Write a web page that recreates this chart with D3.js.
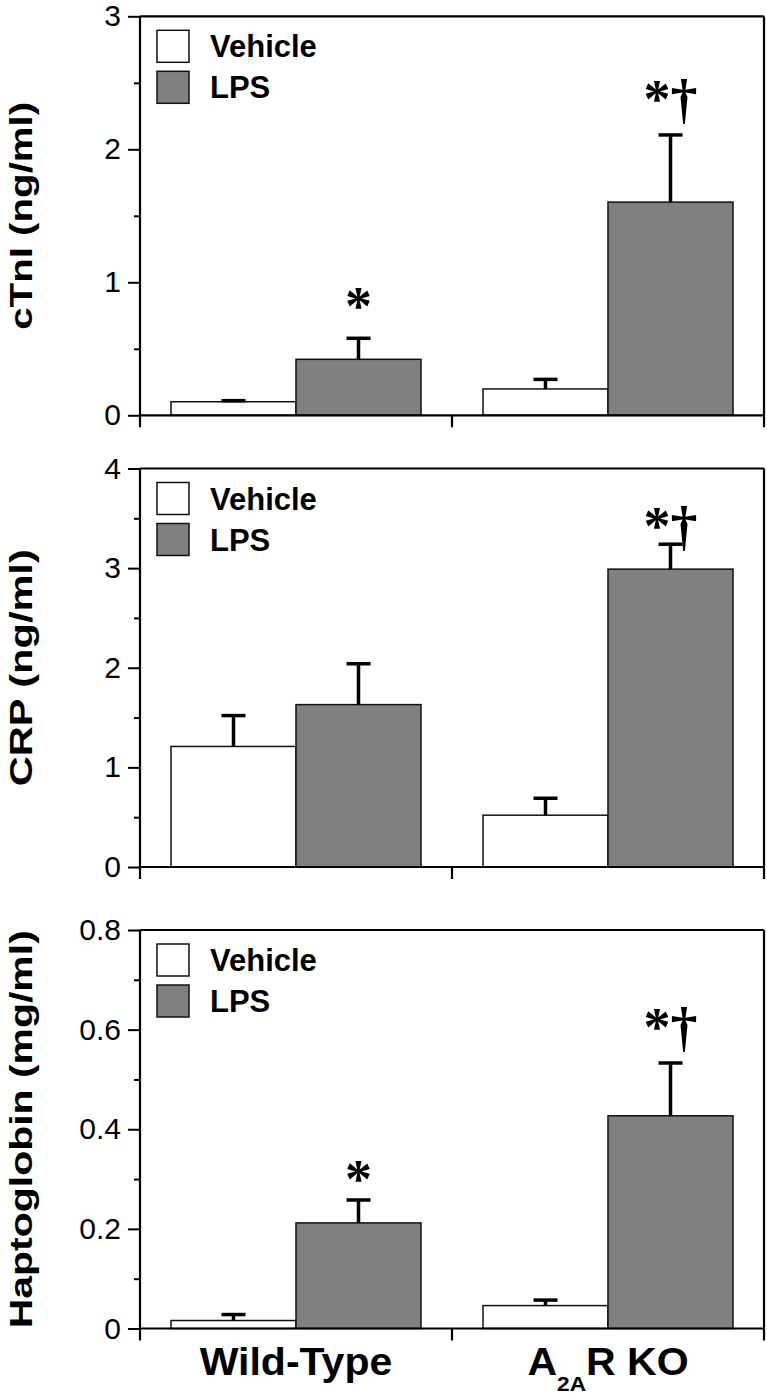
<!DOCTYPE html>
<html>
<head>
<meta charset="utf-8">
<script src="https://cdn.jsdelivr.net/npm/d3@7/dist/d3.min.js"></script>
<style>
  html, body { margin: 0; padding: 0; background: #fff; }
  svg { display: block; }
</style>
</head>
<body>
<svg id="chart" width="767" height="1399"></svg>
<script>
// ---------------- DATA ----------------
const groups = ["Wild-Type", "A2AR KO"];
const series = ["Vehicle", "LPS"];

// Panel 1: cTnI (ng/ml)
const cTnIVehicle = [0.102, 0.198];
const cTnIVehicleErr = [0.008, 0.072];
const cTnILPS = [0.421, 1.603];
const cTnILPSErr = [0.158, 0.505];
const cTnITicks = [0, 1, 2, 3];
const cTnITickLabels = ["0", "1", "2", "3"];
const cTnIMinor = [0.5, 1.5, 2.5];

// Panel 2: CRP (ng/ml)
const crpVehicle = [1.21, 0.52];
const crpVehicleErr = [0.31, 0.17];
const crpLPS = [1.63, 2.99];
const crpLPSErr = [0.41, 0.25];
const crpTicks = [0, 1, 2, 3, 4];
const crpTickLabels = ["0", "1", "2", "3", "4"];
const crpMinor = [0.5, 1.5, 2.5, 3.5];

// Panel 3: Haptoglobin (mg/ml)
const haptoVehicle = [0.016, 0.046];
const haptoVehicleErr = [0.012, 0.011];
const haptoLPS = [0.212, 0.427];
const haptoLPSErr = [0.046, 0.106];
const haptoTicks = [0, 0.2, 0.4, 0.6, 0.8];
const haptoTickLabels = ["0", "0.2", "0.4", "0.6", "0.8"];
const haptoMinor = [0.1, 0.3, 0.5, 0.7];

// Significance marks: [group index, text, value (baseline, in axis units)]
const cTnIMarks = [[0, "*", 0.683], [1, "*\u2020", 2.243]];
const crpMarks = [[1, "*\u2020", 3.24]];
const haptoMarks = [[0, "*", 0.263], [1, "*\u2020", 0.570]];

const titles = ["cTnI (ng/ml)", "CRP (ng/ml)", "Haptoglobin (mg/ml)"];

// ---------------- LAYOUT / STYLE ----------------
const svg = d3.select("#chart");
const left = 140, right = 764;
const fillColors = { Vehicle: "#ffffff", LPS: "#808080" };

const panels = [
  { top: 16.3, zero: 415.3, domain: [0, 3], veh: cTnIVehicle, vehErr: cTnIVehicleErr, lps: cTnILPS, lpsErr: cTnILPSErr,
    ticks: cTnITicks, labels: cTnITickLabels, minor: cTnIMinor, marks: cTnIMarks, title: titles[0], titleLen: 228 },
  { top: 468.5, zero: 867, domain: [0, 4], veh: crpVehicle, vehErr: crpVehicleErr, lps: crpLPS, lpsErr: crpLPSErr,
    ticks: crpTicks, labels: crpTickLabels, minor: crpMinor, marks: crpMarks, title: titles[1], titleLen: 237 },
  { top: 930, zero: 1328.5, domain: [0, 0.8], veh: haptoVehicle, vehErr: haptoVehicleErr, lps: haptoLPS, lpsErr: haptoLPSErr,
    ticks: haptoTicks, labels: haptoTickLabels, minor: haptoMinor, marks: haptoMarks, title: titles[2], titleLen: 398 }
];

const x0 = d3.scaleBand().domain(groups).range([left, right]).padding(0);
const x1 = d3.scaleBand().domain(series).range([0, x0.bandwidth()]).paddingInner(0).paddingOuter(0.248);

panels.forEach(p => {
  const y = d3.scaleLinear().domain(p.domain).range([p.zero, p.top]);
  const g = svg.append("g");

  // Bars
  const rows = [];
  groups.forEach((grp, i) => {
    rows.push({ grp, s: "Vehicle", v: p.veh[i], e: p.vehErr[i] });
    rows.push({ grp, s: "LPS", v: p.lps[i], e: p.lpsErr[i] });
  });

  g.selectAll("rect.bar").data(rows).join("rect")
    .attr("class", "bar")
    .attr("x", d => x0(d.grp) + x1(d.s))
    .attr("y", d => y(d.v))
    .attr("width", x1.bandwidth())
    .attr("height", d => y(0) - y(d.v))
    .attr("fill", d => fillColors[d.s])
    .attr("stroke", "#111")
    .attr("stroke-width", 1.5);

  // Error bars (upper only)
  const cx = d => x0(d.grp) + x1(d.s) + x1.bandwidth() / 2;
  g.selectAll("line.err").data(rows).join("line")
    .attr("class", "err")
    .attr("x1", cx).attr("x2", cx)
    .attr("y1", d => y(d.v)).attr("y2", d => y(d.v + d.e))
    .attr("stroke", "#000").attr("stroke-width", 3.5);
  g.selectAll("line.cap").data(rows).join("line")
    .attr("class", "cap")
    .attr("x1", d => cx(d) - 12).attr("x2", d => cx(d) + 12)
    .attr("y1", d => y(d.v + d.e)).attr("y2", d => y(d.v + d.e))
    .attr("stroke", "#000").attr("stroke-width", 3.5);

  // Y axis (left) with major + minor ticks
  const yAxis = d3.axisLeft(y).tickValues(p.ticks).tickSize(12).tickPadding(7)
    .tickFormat((d, i) => p.labels[i]);
  const ya = g.append("g").attr("transform", `translate(${left},0)`).call(yAxis);
  ya.select(".domain").remove();
  ya.selectAll(".tick line").attr("stroke", "#000").attr("stroke-width", 2);
  ya.selectAll(".tick text").attr("font-family", "Liberation Sans, Arial, sans-serif")
    .attr("font-size", 30).attr("fill", "#000");
  const yMinor = d3.axisLeft(y).tickValues(p.minor).tickSize(6).tickFormat("");
  const ym = g.append("g").attr("transform", `translate(${left},0)`).call(yMinor);
  ym.select(".domain").remove();
  ym.selectAll(".tick line").attr("stroke", "#000").attr("stroke-width", 2);

  // Frame: left, top, right, bottom
  g.append("line").attr("x1", left).attr("x2", left).attr("y1", p.top).attr("y2", p.zero + 12)
    .attr("stroke", "#000").attr("stroke-width", 2.2);
  g.append("line").attr("x1", left).attr("x2", right).attr("y1", p.top).attr("y2", p.top)
    .attr("stroke", "#000").attr("stroke-width", 2.2);
  g.append("line").attr("x1", right).attr("x2", right).attr("y1", p.top).attr("y2", p.zero + 12)
    .attr("stroke", "#000").attr("stroke-width", 2.2);
  g.append("line").attr("x1", left).attr("x2", right).attr("y1", p.zero).attr("y2", p.zero)
    .attr("stroke", "#000").attr("stroke-width", 2.2);
  // middle x tick (category boundary)
  g.append("line").attr("x1", x0(groups[1])).attr("x2", x0(groups[1]))
    .attr("y1", p.zero).attr("y2", p.zero + 12)
    .attr("stroke", "#000").attr("stroke-width", 2.2);

  // Legend
  const lg = g.append("g").attr("transform", `translate(157,${p.top + 14})`);
  series.forEach((s, i) => {
    lg.append("rect").attr("x", 0).attr("y", i * 41).attr("width", 32).attr("height", 32)
      .attr("fill", fillColors[s]).attr("stroke", "#111").attr("stroke-width", 1.5);
    lg.append("text").attr("x", 53).attr("y", i * 41 + 27)
      .attr("font-family", "Liberation Sans, Arial, sans-serif").attr("font-weight", "bold")
      .attr("font-size", 31).attr("fill", "#000").text(s);
  });

  // Significance marks
  p.marks.forEach(m => {
    const gx = x0(groups[m[0]]) + x1("LPS") + x1.bandwidth() / 2;
    g.append("text").attr("x", gx).attr("y", y(m[2]))
      .attr("text-anchor", "middle")
      .attr("font-family", "Liberation Serif, Times New Roman, serif").attr("font-weight", "bold")
      .attr("font-size", 54).attr("fill", "#000").text(m[1]);
  });

  // Y title
  const cy = (p.top + p.zero) / 2;
  g.append("text")
    .attr("transform", `translate(32,${cy}) rotate(-90)`)
    .attr("text-anchor", "middle")
    .attr("font-family", "Liberation Sans, Arial, sans-serif").attr("font-weight", "bold")
    .attr("font-size", 32).attr("fill", "#000")
    .attr("textLength", p.titleLen).attr("lengthAdjust", "spacingAndGlyphs")
    .text(p.title);
});

// X category labels
svg.append("text")
  .attr("transform", `translate(${x0(groups[0]) + x0.bandwidth() / 2},1375) scale(1.08,1)`)
  .attr("text-anchor", "middle")
  .attr("font-family", "Liberation Sans, Arial, sans-serif").attr("font-weight", "bold")
  .attr("font-size", 38).attr("fill", "#000").text(groups[0]);

const xl2 = svg.append("text")
  .attr("transform", `translate(${x0(groups[1]) + x0.bandwidth() / 2},1375) scale(1.08,1)`)
  .attr("text-anchor", "middle")
  .attr("font-family", "Liberation Sans, Arial, sans-serif").attr("font-weight", "bold")
  .attr("font-size", 38).attr("fill", "#000");
xl2.append("tspan").text("A");
xl2.append("tspan").attr("font-size", 21).attr("dy", 16).text("2A");
xl2.append("tspan").attr("dy", -16).text("R KO");
</script>
</body>
</html>
